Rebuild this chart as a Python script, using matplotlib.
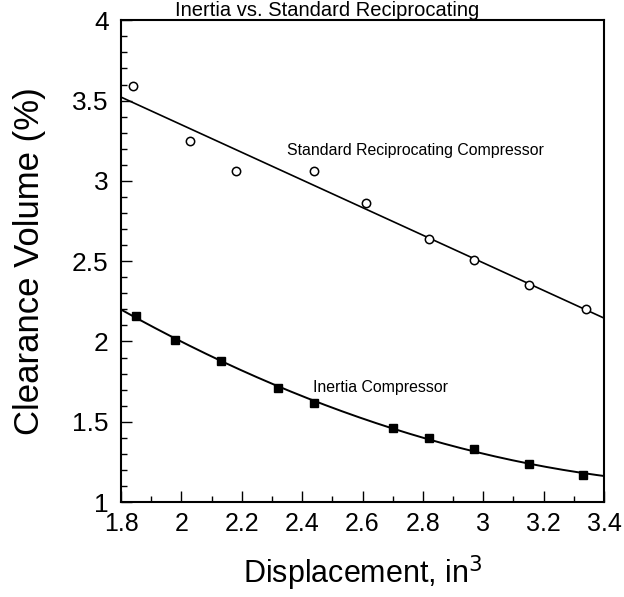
import numpy as np
import matplotlib
matplotlib.use("Agg")
import matplotlib.pyplot as plt
from matplotlib.ticker import MultipleLocator

plt.rcParams['font.family'] = ['Liberation Sans', 'DejaVu Sans']

# standard reciprocating compressor (open circles)
std_x = [1.84, 2.03, 2.18, 2.44, 2.61, 2.82, 2.97, 3.15, 3.34]
std_y = [3.59, 3.25, 3.06, 3.06, 2.86, 2.64, 2.51, 2.35, 2.20]

# inertia compressor (filled squares)
ine_x = [1.85, 1.98, 2.13, 2.32, 2.44, 2.70, 2.82, 2.97, 3.15, 3.33]
ine_y = [2.16, 2.01, 1.88, 1.71, 1.62, 1.46, 1.40, 1.33, 1.24, 1.17]

xticks = [1.8, 2.0, 2.2, 2.4, 2.6, 2.8, 3.0, 3.2, 3.4]

fig = plt.figure(figsize=(6.24, 5.97), dpi=100)
ax = fig.add_axes([0.194, 0.159, 0.774, 0.807])

# fitted curves
xx = np.linspace(1.8, 3.4, 200)
p_std = np.polyfit(std_x, std_y, 1)
p_ine = np.polyfit(ine_x, ine_y, 2)
ax.plot(xx, np.polyval(p_std, xx), color='black', lw=1.2)
ax.plot(xx, np.polyval(p_ine, xx), color='black', lw=1.4)

ax.plot(std_x, std_y, 'o', mfc='white', mec='black', ms=6, mew=1.1, zorder=3)
ax.plot(ine_x, ine_y, 's', color='black', ms=5.5, zorder=3)

ax.text(2.35, 3.19, 'Standard Reciprocating Compressor', fontsize=11.4, va='center')
ax.text(2.435, 1.716, 'Inertia Compressor', fontsize=11.4, va='center')

ax.set_xlim(1.8, 3.4)
ax.set_ylim(1, 4)
ax.set_xticks(xticks)
ax.xaxis.set_minor_locator(MultipleLocator(0.1))
ax.yaxis.set_major_locator(MultipleLocator(0.5))
ax.yaxis.set_minor_locator(MultipleLocator(0.1))
fmt = plt.FuncFormatter(lambda v, p: '%g' % v)
ax.xaxis.set_major_formatter(fmt)
ax.yaxis.set_major_formatter(fmt)
ax.tick_params(which='both', direction='in', top=False, right=False)
ax.tick_params(which='major', length=8, width=1)
ax.tick_params(which='minor', length=4, width=1)
ax.tick_params(axis='x', labelsize=18, pad=7)
ax.tick_params(axis='y', labelsize=19, pad=9)
for s in ax.spines.values():
    s.set_linewidth(1.5)

ax.set_xlabel('Displacement, in$^3$', fontsize=22, labelpad=13)
ax.set_ylabel('Clearance Volume (%)', fontsize=25, labelpad=19)
fig.text(0.525, 0.999, 'Inertia vs. Standard Reciprocating',
         ha='center', va='top', fontsize=14.5)

fig.savefig('out.png', dpi=100)
